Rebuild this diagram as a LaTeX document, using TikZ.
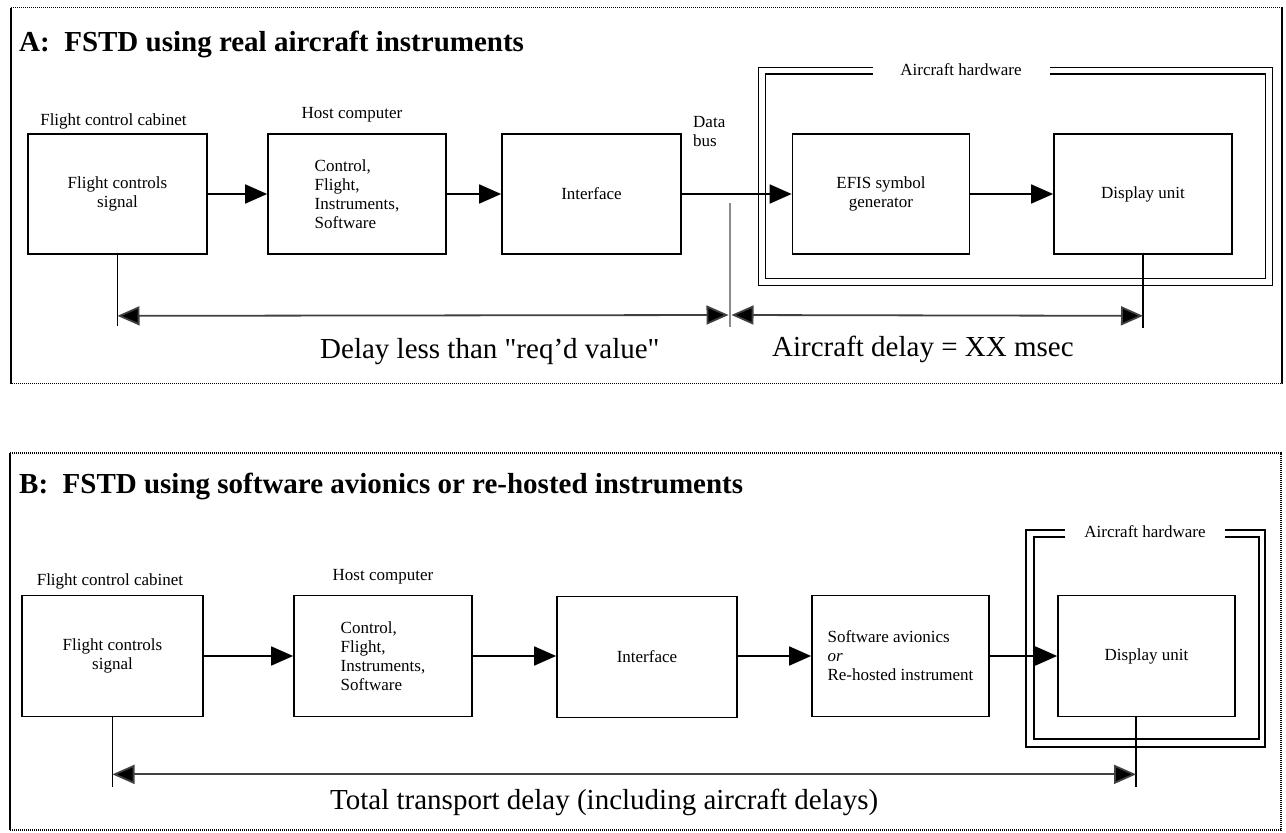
\documentclass[tikz,border=0pt]{standalone}
\usepackage{fontspec}
\setmainfont{Liberation Serif}
\newfontfamily\qfont[Ligatures=TeXOff]{Liberation Serif}
\usetikzlibrary{arrows.meta}
\newcommand\smalltxt{\fontsize{17}{19}\selectfont}
\newcommand\lbltxt{\fontsize{29}{34}\selectfont}
\newcommand\ttltxt{\fontsize{29}{34}\selectfont\bfseries}
\newcommand\sq{{\qfont"}}
\begin{document}
\begin{tikzpicture}[x=1pt,y=-1pt,
  box/.style={draw, line width=1.7pt, inner sep=0pt, align=center, font=\smalltxt},
  lbl/.style={inner sep=0pt, font=\smalltxt},
  flow/.style={line width=1.8pt, -{Triangle[length=22pt,width=19pt]}},
  delay/.style={line width=1.8pt, draw=black!75, {Triangle[length=22pt,width=19pt,fill=black]}-{Triangle[length=22pt,width=19pt,fill=black]}},
  tick/.style={line width=1.6pt},
  frame/.style={line width=1.3pt},
  dotline/.style={line width=1.6pt, dash pattern=on 1.1pt off 0.9pt},
]
\useasboundingbox (0,0) rectangle (1286,833);
\fill[white] (0,0) rectangle (1286,833);

% ================= Panel A =================
\draw[dotline] (11,7.5) -- (1282,7.5) -- (1282,383.5) -- (11,383.5);
\draw[line width=1.3pt] (11,7.5) -- (11,383.5);
\node[anchor=base west, inner sep=0pt, font=\ttltxt] (titleA) at (19,51) {A:\ \ FSTD using real aircraft instruments};

\node[lbl, anchor=base] (cabA) at (113.5,125) {Flight control cabinet};
\node[lbl, anchor=base] (hostlA) at (352,118) {Host computer};

\node[box, minimum width=179pt, minimum height=120pt] (fcA) at (117.5,194) {Flight controls\\signal};
\node[box, minimum width=178pt, minimum height=120pt, align=left] (hostA) at (357,194) {Control,\\Flight,\\Instruments,\\Software};
\node[box, minimum width=179pt, minimum height=120pt] (ifA) at (591.5,194) {Interface};
\node[box, minimum width=177pt, minimum height=120pt] (efis) at (881,194) {EFIS symbol\\generator};
\node[box, minimum width=178pt, minimum height=120pt] (dispA) at (1143,194) {Display unit};

\node[lbl, align=left, anchor=north west] (dbus) at (693,116) {Data\\bus};

% aircraft hardware frame A
\draw[frame] (873,67.5) -| (758.5,285.5) -| (1272.5,67.5) -- (1050,67.5);
\draw[frame] (873,74) -| (765.5,278.5) -| (1265.5,74) -- (1050,74);
\node[lbl] (hwA) at (961,70) {Aircraft hardware};

\draw[flow] (fcA.east) -- (hostA.west);
\draw[flow] (hostA.east) -- (ifA.west);
\draw[flow] (ifA.east) -- (efis.west);
\draw[flow] (efis.east) -- (dispA.west);

% delay markers A
\path (fcA.south) ++(0,61) coordinate (aL);
\path (fcA.south) ++(0,71) coordinate (aLb);
\path (dispA.south) ++(0,61) coordinate (aR);
\path (dispA.south) ++(0,73) coordinate (aRb);
\coordinate (divT) at (730,203);
\coordinate (divB) at (730,327);
\coordinate (aM1) at (728.5,315);
\coordinate (aM2) at (731.5,315);
\draw[tick] (fcA.south) -- (aLb);
\draw[tick] (dispA.south) -- (aRb);
\draw[line width=1.6pt, draw=black!45] (divT) -- (divB);
\draw[delay] (aL) -- (aM1);
\draw[delay] (aM2) -- (aR);
\node[anchor=base west, inner sep=0pt, font=\lbltxt] (dl1) at (320,358) {Delay less than \sq req'd value\sq};
\node[anchor=base west, inner sep=0pt, font=\lbltxt] (dl2) at (772,356) {Aircraft delay = XX msec};

% ================= Panel B =================
\draw[dotline] (10,453) -- (1281,453) -- (1281,830) -- (10,830);
\draw[line width=1.3pt] (10,453) -- (10,830);
\node[anchor=base west, inner sep=0pt, font=\ttltxt] (titleB) at (19,493) {B:\ \ FSTD using software avionics or re-hosted instruments};

\node[lbl, anchor=base] (cabB) at (110,585) {Flight control cabinet};
\node[lbl, anchor=base] (hostlB) at (383,580) {Host computer};

\node[box, minimum width=181pt, minimum height=121pt] (fcB) at (112.5,656) {Flight controls\\signal};
\node[box, minimum width=178pt, minimum height=121pt, align=left] (hostB) at (383,656) {Control,\\Flight,\\Instruments,\\Software};
\node[box, minimum width=180pt, minimum height=121pt] (ifB) at (647,657) {Interface};
\node[box, minimum width=177pt, minimum height=121pt, align=left] (soft) at (900.5,656) {Software avionics\\\textit{or}\\Re-hosted instrument};
\node[box, minimum width=177pt, minimum height=121pt] (dispB) at (1146.5,656) {Display unit};

% aircraft hardware frame B
\draw[frame] (1065,530) -| (1026,747) -| (1265,530) -- (1225,530);
\draw[frame] (1065,537) -| (1034,739) -| (1259,537) -- (1225,537);
\node[lbl] (hwB) at (1145,532) {Aircraft hardware};

\draw[flow] (fcB.east) -- (hostB.west);
\draw[flow] (hostB.east) -- (ifB.west |- hostB.east);
\draw[flow] (ifB.east |- soft.west) -- (soft.west);
\draw[flow] (soft.east) -- (dispB.west);

% delay markers B
\path (fcB.south) ++(0,57) coordinate (bL);
\path (fcB.south) ++(0,70) coordinate (bLb);
\path (dispB.south) ++(-10.5,0) coordinate (bRt);
\path (bRt) ++(0,57) coordinate (bR);
\path (bRt) ++(0,70) coordinate (bRb);
\draw[tick] (fcB.south) -- (bLb);
\draw[tick] (bRt) -- (bRb);
\draw[delay] (bL) -- (bR);
\node[anchor=base west, inner sep=0pt, font=\lbltxt] (dl3) at (330,809) {Total transport delay (including aircraft delays)};
\end{tikzpicture}
\end{document}
